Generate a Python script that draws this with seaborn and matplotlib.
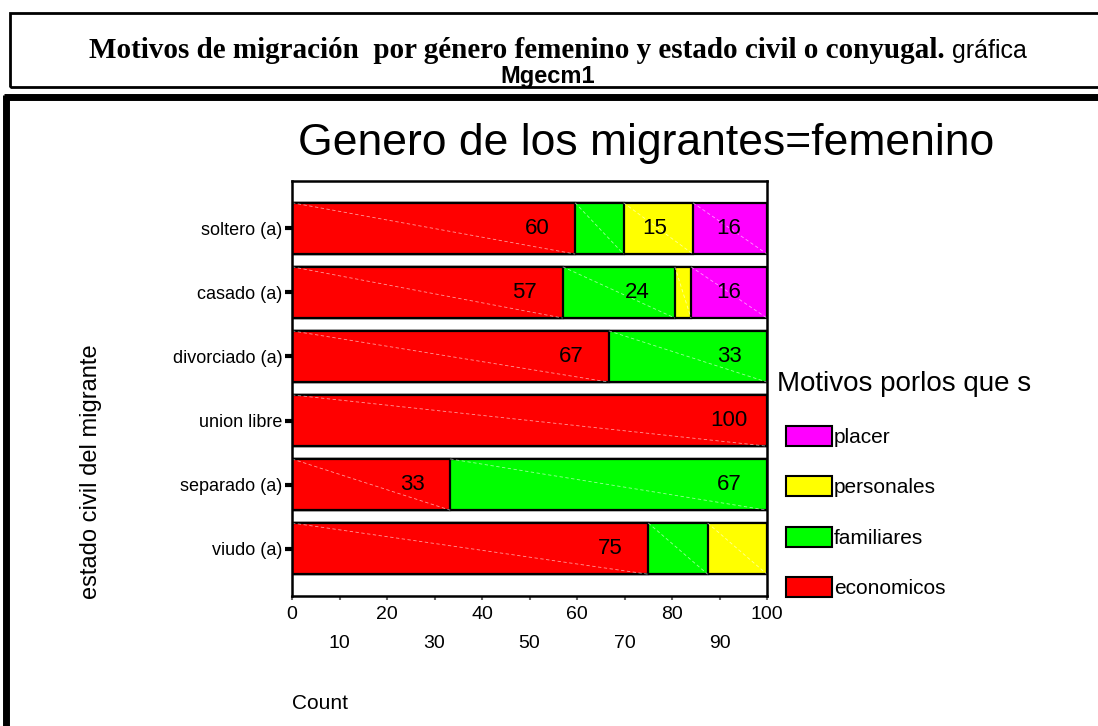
import pandas as pd
import matplotlib.pyplot as plt
import seaborn as sns
from matplotlib.patches import Patch, Rectangle
from matplotlib.lines import Line2D

# Data (percent per estado civil)
estado = ["soltero (a)", "casado (a)", "divorciado (a)", "union libre",
          "separado (a)", "viudo (a)"]
motivos = ["economicos", "familiares", "personales", "placer"]
economicos = [59.6, 57.0, 66.7, 100.0, 33.3, 75.0]
familiares = [10.2, 23.6, 33.3, 0.0, 66.7, 12.5]
personales = [14.6, 3.4, 0.0, 0.0, 0.0, 12.5]
placer = [15.6, 16.0, 0.0, 0.0, 0.0, 0.0]
colores = {"economicos": "#ff0000", "familiares": "#00ff00",
           "personales": "#ffff00", "placer": "#ff00ff"}

df = pd.DataFrame({"estado": estado, "economicos": economicos,
                   "familiares": familiares, "personales": personales,
                   "placer": placer})
cum = df[motivos].cumsum(axis=1)

sns.set_style("white")
plt.rcParams["font.family"] = ["Liberation Sans", "DejaVu Sans"]
for k in ["text.color", "axes.labelcolor", "xtick.color", "ytick.color"]:
    plt.rcParams[k] = "black"

W, H = 1098, 726
fig = plt.figure(figsize=(W / 100, H / 100), dpi=100)
ax = fig.add_axes([292 / W, 130 / H, 475 / W, 415 / H])

# stacked bars: draw cumulative totals from the last layer to the first
for m in reversed(motivos):
    sns.barplot(x=cum[m], y=df["estado"], orient="h", color=colores[m],
                saturation=1, width=0.8, edgecolor="black", linewidth=1.6,
                errorbar=None, ax=ax)

for i in range(len(estado)):
    for m in motivos:
        v = df.loc[i, m]
        end = cum.loc[i, m]
        if v <= 0:
            continue
        # faint diagonal inside each segment
        ax.plot([end - v, end], [i - 0.4, i + 0.4], color="white", lw=0.6,
                ls=(0, (4, 3)), alpha=0.6)
        if v >= 13:
            ax.text(end - 8, i, f"{v:.0f}", ha="center", va="center",
                    fontsize=16)

ax.set_xlim(0, 100)
ax.set_ylim(5.74, -0.74)

ax.set_xticks(range(0, 101, 20))
ax.set_xticks(range(10, 100, 20), minor=True)
ax.set_xticklabels([str(t) for t in range(0, 101, 20)])
ax.set_xticklabels([str(t) for t in range(10, 100, 20)], minor=True)
ax.tick_params(axis="x", which="both", bottom=True, length=3, width=1.5,
               color="#666666", labelsize=14)
ax.tick_params(axis="x", which="major", pad=4)
ax.tick_params(axis="x", which="minor", pad=25)
ax.tick_params(axis="y", left=True, length=5, width=3, color="black",
               labelsize=13, pad=2)

for s in ax.spines.values():
    s.set_color("black")
    s.set_linewidth(1.8)

ax.set_xlabel("Count", fontsize=15, ha="left")
ax.xaxis.set_label_coords(0, -0.235)
ax.set_ylabel("estado civil del migrante", fontsize=17)
ax.yaxis.set_label_coords(-0.40, 0.30)

fig.text(646 / W, 1 - 143 / H, "Genero de los migrantes=femenino",
         ha="center", va="center", fontsize=32)

# legend: title as its own text, entries slightly indented
fig.text(777 / W, 1 - 384 / H, "Motivos porlos que s", ha="left",
         va="center", fontsize=20)
handles = [Patch(facecolor=colores[m], edgecolor="black", linewidth=1.5)
           for m in reversed(motivos)]
fig.legend(handles, list(reversed(motivos)), loc="upper left",
           bbox_to_anchor=(786 / W, 1 - 426 / H), frameon=False,
           fontsize=15, handlelength=2.2, handleheight=1.1,
           handletextpad=0.1, labelspacing=1.4, borderaxespad=0,
           borderpad=0)

# header box and outer frame
fig.add_artist(Rectangle((10 / W, 1 - 87 / H), 1.0, 74 / H, fill=False,
                         lw=2, edgecolor="black", transform=fig.transFigure))
fig.add_artist(Line2D([4 / W, 1], [1 - 97 / H] * 2, lw=5, color="black",
                      solid_capstyle="butt", transform=fig.transFigure))
fig.add_artist(Line2D([6 / W] * 2, [0, 1 - 95 / H], lw=5, color="black",
                      solid_capstyle="butt", transform=fig.transFigure))

fig.text(945 / W, 1 - 51 / H,
         "Motivos de migración  por género femenino y estado civil o conyugal.",
         ha="right", va="center", fontsize=21, fontweight="bold",
         family=["Liberation Serif", "DejaVu Serif"])
fig.text(952 / W, 1 - 51 / H, "gráfica", ha="left", va="center",
         fontsize=18)
fig.text(548 / W, 1 - 76 / H, "Mgecm1", ha="center", va="center",
         fontsize=17, fontweight="bold")

fig.savefig("out.png", dpi=100)
